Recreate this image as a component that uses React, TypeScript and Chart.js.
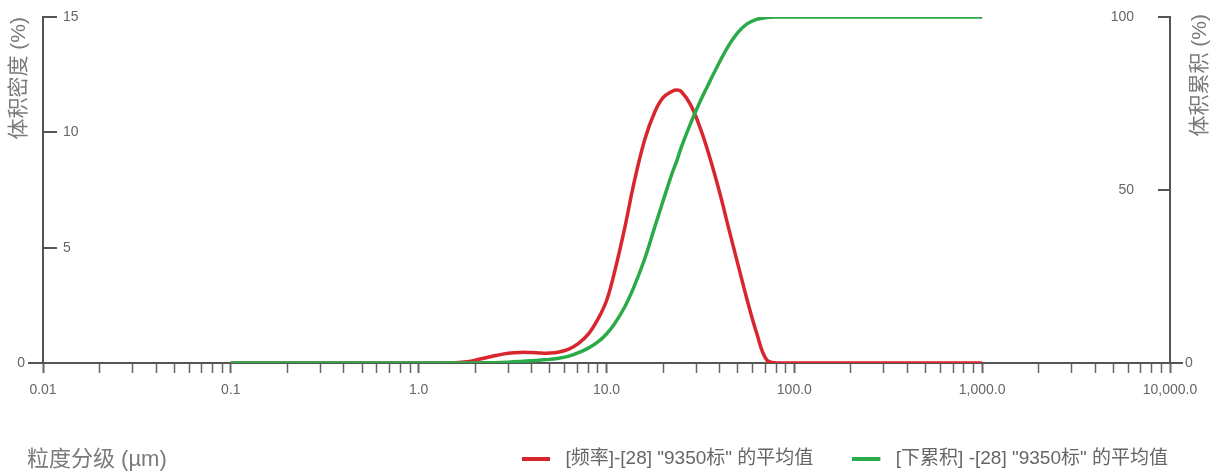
import React, { useEffect, useRef } from "react";
import { Chart, registerables } from "chart.js";

Chart.register(...registerables);

// ---- data ----
const particleSizes = [
  0.1, 0.5, 1.0, 1.5, 1.8, 2.0, 2.5, 3.0, 3.5, 4.0, 4.5, 5.0, 5.6, 6.3, 7.1, 8.0, 9.0, 10, 11, 12.5,
  14, 16, 18, 20, 22.4, 23.7, 25, 28, 31.5, 35.5, 40, 45, 50, 56, 63, 71, 80, 100, 200, 500, 1000,
];
const frequencyValues = [
  0, 0, 0, 0, 0.05, 0.12, 0.3, 0.42, 0.46, 0.45, 0.43, 0.43, 0.48, 0.6, 0.85, 1.25, 1.9, 2.7, 3.9, 5.85,
  7.8, 9.7, 10.85, 11.5, 11.78, 11.83, 11.77, 11.2, 10.2, 8.9, 7.4, 5.75, 4.3, 2.75, 1.3, 0.15, 0, 0, 0, 0, 0,
];
const cumulativeValues = [
  0, 0, 0, 0, 0, 0.02, 0.1, 0.25, 0.45, 0.65, 0.85, 1.05, 1.4, 2.0, 3.0, 4.3, 6.1, 8.4, 11.2, 16.2,
  22, 30.2, 39, 46.8, 55, 58.5, 62.3, 69.2, 75.6, 81.4, 87, 92, 95.5, 98, 99.3, 99.85, 100, 100, 100, 100, 100,
];
const densityTicks = [0, 5, 10, 15];
const cumulativeTicks = [0, 50, 100];
const sizeDecades = [0.01, 0.1, 1, 10, 100, 1000, 10000];
const seriesNames = ['[频率]-[28] "9350标" 的平均值', '[下累积] -[28] "9350标" 的平均值'];
const densityTitle = "体积密度 (%)";
const cumulativeTitle = "体积累积 (%)";
const sizeTitle = "粒度分级 (µm)";

// ---- styles ----
const RED = "#d8262f";
const GREEN = "#2bab48";
const AXIS = "#555555";
const TICK_TEXT = "#666666";
const TITLE_TEXT = "#7a7a7a";
const FONT = "'Liberation Sans', 'Noto Sans CJK SC', sans-serif";
const TITLE_SIZE = 21;
const TICK_SIZE = 14;

const isDecade = (v: number) => Math.abs(Math.log10(v) - Math.round(Math.log10(v))) < 1e-9;

const formatSize = (v: number) =>
  v < 1
    ? String(v)
    : v.toLocaleString("en-US", { minimumFractionDigits: 1, maximumFractionDigits: 1 });

function lineIcon(color: string) {
  const c = document.createElement("canvas");
  c.width = 34;
  c.height = 4;
  const g = c.getContext("2d")!;
  g.fillStyle = color;
  g.fillRect(0, 0, 28, 4);
  return c;
}

const axisDecor = {
  id: "axisDecor",
  afterDraw(chart: any) {
    const { ctx, chartArea: a, scales } = chart;
    const yL = scales.y;
    const yR = scales.y2;
    ctx.save();
    ctx.strokeStyle = AXIS;
    ctx.lineWidth = 2;
    for (const v of densityTicks) {
      const py = Math.round(yL.getPixelForValue(v));
      ctx.beginPath();
      if (v === 0) {
        ctx.moveTo(a.left - 15, py);
        ctx.lineTo(a.left, py);
      } else {
        ctx.moveTo(a.left, py);
        ctx.lineTo(a.left + 14, py);
      }
      ctx.stroke();
    }
    for (const v of cumulativeTicks) {
      const py = Math.round(yR.getPixelForValue(v));
      ctx.beginPath();
      if (v === 0) {
        ctx.moveTo(a.right, py);
        ctx.lineTo(a.right + 13, py);
      } else {
        ctx.moveTo(a.right - 12, py);
        ctx.lineTo(a.right, py);
      }
      ctx.stroke();
    }
    ctx.fillStyle = TICK_TEXT;
    ctx.font = `${TICK_SIZE}px ${FONT}`;
    ctx.textBaseline = "middle";
    ctx.textAlign = "right";
    ctx.fillText("0", a.left - 18, yL.getPixelForValue(0));
    ctx.textAlign = "left";
    ctx.fillText("0", a.right + 15, yR.getPixelForValue(0));

    ctx.fillStyle = TITLE_TEXT;
    ctx.font = `${TITLE_SIZE}px ${FONT}`;
    ctx.save();
    ctx.translate(chart.width - 18, a.top - 3);
    ctx.rotate(-Math.PI / 2);
    ctx.textAlign = "right";
    ctx.textBaseline = "middle";
    ctx.fillText(cumulativeTitle, 0, 0);
    ctx.restore();

    const hb = chart.legend && chart.legend.legendHitBoxes && chart.legend.legendHitBoxes[0];
    const ty = hb ? hb.top + hb.height / 2 : 458;
    ctx.font = `22px ${FONT}`;
    ctx.textAlign = "left";
    ctx.textBaseline = "middle";
    ctx.fillText(sizeTitle, 27, ty + 1);
    ctx.restore();
  },
};

export default function App() {
  const ref = useRef<HTMLCanvasElement | null>(null);

  useEffect(() => {
    if (!ref.current) return;
    const chart = new Chart(ref.current, {
      type: "line",
      data: {
        datasets: [
          {
            label: seriesNames[0],
            data: particleSizes.map((s, i) => ({ x: s, y: frequencyValues[i] })),
            yAxisID: "y",
            borderColor: RED,
            backgroundColor: RED,
            borderWidth: 3.5,
            pointRadius: 0,
            pointStyle: lineIcon(RED) as any,
            tension: 0.4,
            order: 1,
          },
          {
            label: seriesNames[1],
            data: particleSizes.map((s, i) => ({ x: s, y: cumulativeValues[i] })),
            yAxisID: "y2",
            borderColor: GREEN,
            backgroundColor: GREEN,
            borderWidth: 3.5,
            pointRadius: 0,
            pointStyle: lineIcon(GREEN) as any,
            tension: 0.4,
            order: 0,
          },
        ],
      },
      options: {
        animation: false,
        responsive: true,
        maintainAspectRatio: false,
        events: [],
        layout: { padding: { top: 17, left: 0, right: 11, bottom: -3 } },
        plugins: {
          tooltip: { enabled: false },
          legend: {
            position: "bottom",
            align: "end",
            labels: {
              usePointStyle: true,
              pointStyleWidth: 34,
              boxHeight: 4,
              padding: 39,
              color: TICK_TEXT,
              font: { size: 19, family: FONT },
              sort: (a: any, b: any) => a.datasetIndex - b.datasetIndex,
            },
          },
        },
        scales: {
          x: {
            type: "logarithmic",
            min: 0.01,
            max: 10000,
            afterBuildTicks: (s: any) => {
              const t: { value: number }[] = [];
              for (const d of sizeDecades) {
                if (d === 10000) {
                  t.push({ value: d });
                  continue;
                }
                for (let k = 1; k <= 9; k++) t.push({ value: k * d });
              }
              s.ticks = t;
            },
            afterFit: (s: any) => {
              s.height = 47;
            },
            ticks: {
              autoSkip: false,
              maxRotation: 0,
              minRotation: 0,
              padding: 9,
              color: TICK_TEXT,
              font: { size: TICK_SIZE, family: FONT },
              callback: (v: any) => (isDecade(Number(v)) ? formatSize(Number(v)) : ""),
            },
            grid: {
              drawOnChartArea: false,
              drawTicks: true,
              tickLength: 10,
              tickColor: "#666666",
              tickWidth: (c: any) => (c.tick && isDecade(c.tick.value) ? 2 : 1.5),
            },
            border: { display: true, color: AXIS, width: 2 },
          },
          y: {
            type: "linear",
            position: "left",
            min: 0,
            max: 15,
            afterBuildTicks: (s: any) => {
              s.ticks = densityTicks.map((v) => ({ value: v }));
            },
            afterFit: (s: any) => {
              s.width = 43;
              s.paddingTop = 0;
              s.paddingBottom = 0;
            },
            ticks: {
              mirror: true,
              padding: 20,
              color: TICK_TEXT,
              font: { size: TICK_SIZE, family: FONT },
              callback: (v: any) => (Number(v) === 0 ? "" : String(v)),
            },
            grid: { drawOnChartArea: false, drawTicks: false },
            border: { display: true, color: AXIS, width: 2 },
            title: {
              display: true,
              text: densityTitle,
              align: "end",
              color: TITLE_TEXT,
              font: { size: TITLE_SIZE, family: FONT },
              padding: { top: 7, bottom: 0 },
            },
          },
          y2: {
            type: "linear",
            position: "right",
            min: 0,
            max: 100,
            afterBuildTicks: (s: any) => {
              s.ticks = cumulativeTicks.map((v) => ({ value: v }));
            },
            afterFit: (s: any) => {
              s.width = 37;
              s.paddingTop = 0;
              s.paddingBottom = 0;
            },
            ticks: {
              mirror: true,
              padding: -36,
              color: TICK_TEXT,
              font: { size: TICK_SIZE, family: FONT },
              callback: (v: any) => (Number(v) === 0 ? "" : String(v)),
            },
            grid: { drawOnChartArea: false, drawTicks: false },
            border: { display: true, color: AXIS, width: 2 },
          },
        },
      } as any,
      plugins: [axisDecor],
    });
    return () => chart.destroy();
  }, []);

  return (
    <div
      style={{
        position: "absolute",
        left: 0,
        top: 0,
        width: 1218,
        height: 475,
        background: "#ffffff",
      }}
    >
      <canvas ref={ref} />
    </div>
  );
}
